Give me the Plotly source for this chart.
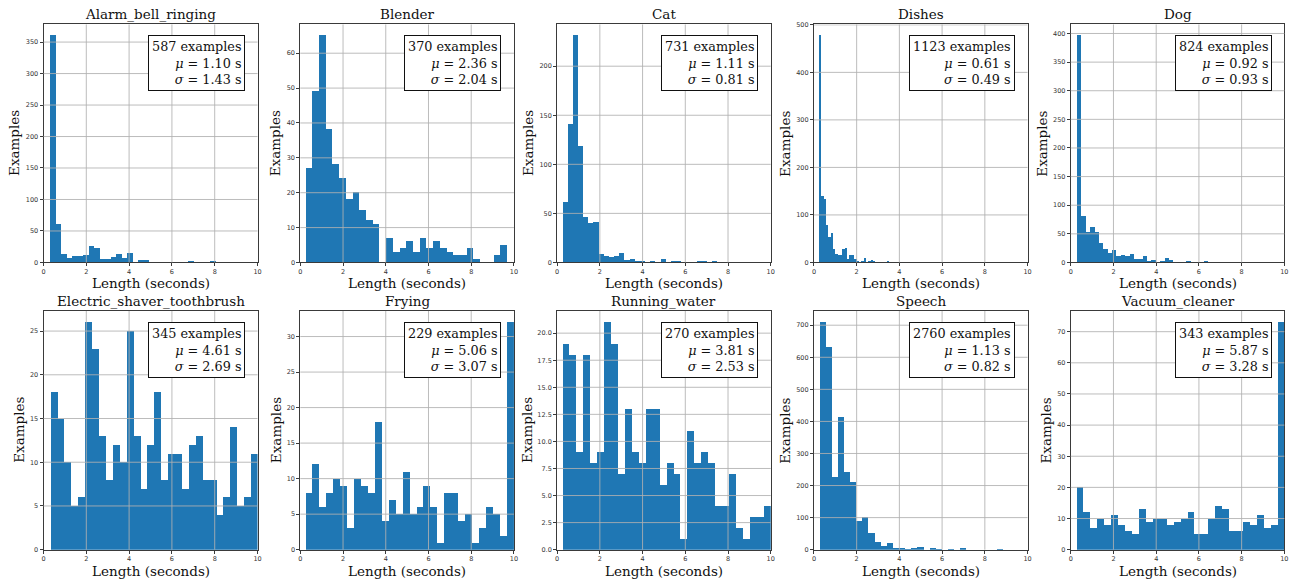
import numpy as np
import plotly.graph_objects as go

W, H = 1301, 584

# ---------------- data ----------------
names = ["Alarm_bell_ringing", "Blender", "Cat", "Dishes", "Dog",
         "Electric_shaver_toothbrush", "Frying", "Running_water", "Speech", "Vacuum_cleaner"]
n_examples = [587, 370, 731, 1123, 824, 345, 229, 270, 2760, 343]
mean_s = [1.10, 2.36, 1.11, 0.61, 0.92, 4.61, 5.06, 3.81, 1.13, 5.87]
std_s = [1.43, 2.04, 0.81, 0.49, 0.93, 2.69, 3.07, 2.53, 0.82, 3.28]

# histogram range (seconds) for each class: 30 equal bins between lo and hi
bin_lo = [0.28, 0.26, 0.26, 0.23, 0.28, 0.31, 0.26, 0.26, 0.26, 0.26]
bin_hi = [8.02, 9.69, 7.50, 3.53, 6.43, 10.0, 10.0, 10.0, 8.85, 10.0]

counts_alarm = [360, 60, 13, 6, 10, 9, 11, 25, 23, 5, 5, 8, 12, 7, 14,
                0, 3, 3, 0, 0, 0, 0, 0, 0, 0, 2, 0, 0, 0, 2]
counts_blender = [27, 49, 65, 38, 28, 24, 18, 20, 15, 12, 11, 0, 7, 3, 4,
                  6, 3, 7, 4, 6, 4, 3, 2, 2, 4, 1, 0, 0, 2, 5]
counts_cat = [61, 141, 231, 118, 46, 40, 41, 8, 6, 5, 6, 9, 2, 3, 1,
              1, 0, 1, 0, 3, 0, 1, 1, 0, 0, 0, 1, 1, 0, 1]
counts_dishes = [477, 138, 132, 77, 52, 62, 28, 17, 15, 14, 28, 29, 7, 14, 14,
                 7, 1, 0, 2, 9, 0, 1, 4, 3, 0, 0, 0, 0, 0, 1]
counts_dog = [396, 81, 53, 61, 53, 34, 22, 15, 21, 11, 13, 11, 14, 5, 5,
              10, 2, 3, 0, 2, 7, 3, 0, 0, 0, 1, 0, 0, 0, 1]
counts_shaver = [18, 15, 10, 5, 6, 26, 23, 13, 8, 12, 10, 25, 13, 7, 12,
                 18, 8, 11, 11, 7, 12, 13, 8, 8, 4, 6, 14, 5, 6, 11]
counts_frying = [8, 12, 6, 8, 10, 9, 3, 10, 9, 8, 18, 4, 7, 5, 11,
                 5, 6, 9, 6, 1, 8, 8, 4, 5, 1, 3, 6, 5, 2, 32]
counts_water = [19, 18, 9, 18, 8, 9, 21, 19, 7, 13, 9, 8, 13, 13, 6,
                8, 7, 1, 11, 8, 9, 8, 4, 4, 7, 2, 1, 3, 3, 4]
counts_speech = [709, 632, 227, 413, 242, 210, 90, 102, 51, 23, 12, 20, 4, 4, 2,
                 6, 8, 0, 4, 2, 0, 2, 0, 3, 0, 0, 0, 0, 0, 2]
counts_vacuum = [20, 12, 7, 10, 8, 11, 8, 6, 5, 13, 9, 10, 10, 8, 9,
                 10, 12, 5, 5, 10, 14, 13, 6, 6, 9, 8, 11, 7, 8, 73]

all_counts = [counts_alarm, counts_blender, counts_cat, counts_dishes, counts_dog,
              counts_shaver, counts_frying, counts_water, counts_speech, counts_vacuum]

x_ticks = [0, 2, 4, 6, 8, 10]
y_tick_step = [50, 10, 50, 100, 50, 5, 5, 2.5, 100, 10]

# ---------------- layout geometry (pixels) ----------------
col_px = [(41.7, 256.7), (299.7, 514.3), (557.7, 772.3), (815.7, 1030.3), (1073.7, 1288.3)]
row_px = [(21.7, 262.6), (311.7, 553.3)]
ylab_shift = [-29, -24.5, -28.5, -28.5, -28.5, -24, -24.5, -29.5, -28.5, -24.5]

SERIF = "DejaVu Serif"
SANS = "DejaVu Sans"
BLUE = "#1f77b4"
GRID = "rgba(176,176,176,0.85)"
FRAME = "#3a3a3a"
TXT = 13.5

fig = go.Figure()
shapes = []
annotations = []
layout_axes = {}

for i, name in enumerate(names):
    r, c = divmod(i, 5)
    n = i + 1
    xs = "x" if n == 1 else f"x{n}"
    ys = "y" if n == 1 else f"y{n}"
    xa = "xaxis" if n == 1 else f"xaxis{n}"
    ya = "yaxis" if n == 1 else f"yaxis{n}"

    counts = np.array(all_counts[i], dtype=float)
    nb = len(counts)
    w = (bin_hi[i] - bin_lo[i]) / nb
    centers = bin_lo[i] + (np.arange(nb) + 0.5) * w

    fig.add_trace(go.Bar(x=centers, y=counts, width=w, xaxis=xs, yaxis=ys,
                         marker=dict(color=BLUE, line=dict(width=0)),
                         showlegend=False, hoverinfo="x+y"))

    ymax = counts.max() * 1.05
    step = y_tick_step[i]
    yticks = list(np.arange(0, ymax + 1e-9, step))
    is_frac = float(step) != int(step)

    x0, x1 = col_px[c]
    y0, y1 = row_px[r]
    axis_common = dict(showgrid=False, zeroline=False, showline=True, mirror=True,
                       linecolor=FRAME, linewidth=1, ticks="outside", ticklen=3,
                       tickwidth=1, tickcolor=FRAME,
                       tickfont=dict(family=SANS, size=6.5, color="#333"),
                       layer="above traces", fixedrange=True)
    layout_axes[xa] = dict(domain=[x0 / W, x1 / W], range=[0, 10], anchor=ys,
                           tickvals=x_ticks, ticktext=[str(t) for t in x_ticks], **axis_common)
    layout_axes[ya] = dict(domain=[1 - y1 / H, 1 - y0 / H], range=[0, ymax], anchor=xs,
                           tickvals=yticks,
                           ticktext=[f"{t:.1f}" if is_frac else f"{int(t)}" for t in yticks],
                           **axis_common)

    # grid drawn above the bars, as in the reference
    for t in x_ticks[1:-1]:
        shapes.append(dict(type="line", xref=xs, yref=f"{ys} domain", x0=t, x1=t, y0=0, y1=1,
                           line=dict(color=GRID, width=1), layer="above"))
    for t in yticks[1:]:
        shapes.append(dict(type="line", xref=f"{xs} domain", yref=ys, x0=0, x1=1, y0=t, y1=t,
                           line=dict(color=GRID, width=1), layer="above"))

    # title
    annotations.append(dict(text=name, xref=f"{xs} domain", yref=f"{ys} domain",
                            x=0.5, y=1, xanchor="center", yanchor="bottom", yshift=0,
                            showarrow=False, font=dict(family=SERIF, size=TXT, color="#111")))
    # x label
    annotations.append(dict(text="Length (seconds)", xref=f"{xs} domain", yref=f"{ys} domain",
                            x=0.5, y=0, xanchor="center", yanchor="middle", yshift=-21,
                            showarrow=False, font=dict(family=SERIF, size=TXT, color="#111")))
    # y label
    annotations.append(dict(text="Examples", xref=f"{xs} domain", yref=f"{ys} domain",
                            x=0, y=0.5, xanchor="center", yanchor="middle", xshift=ylab_shift[i],
                            textangle=-90, showarrow=False,
                            font=dict(family=SERIF, size=TXT, color="#111")))
    # stats box
    box_text = (f"{n_examples[i]} examples<br><i>\u03bc</i> = {mean_s[i]:.2f} s"
                f"<br><i>\u03c3</i> = {std_s[i]:.2f} s")
    annotations.append(dict(text=box_text, xref=f"{xs} domain", yref=f"{ys} domain",
                            x=0.941, y=0.954, xanchor="right", yanchor="top", align="right",
                            showarrow=False, bgcolor="white", bordercolor="#111", borderwidth=1,
                            borderpad=3,
                            font=dict(family=SERIF, size=12.8, color="#111")))

fig.update_layout(width=W, height=H, margin=dict(l=0, r=0, t=0, b=0),
                  paper_bgcolor="white", plot_bgcolor="white", bargap=0,
                  shapes=shapes, annotations=annotations, **layout_axes)

fig.write_html("out.html", config={"displayModeBar": False},
               post_script="document.body.style.margin='0';document.body.style.overflow='hidden';")
